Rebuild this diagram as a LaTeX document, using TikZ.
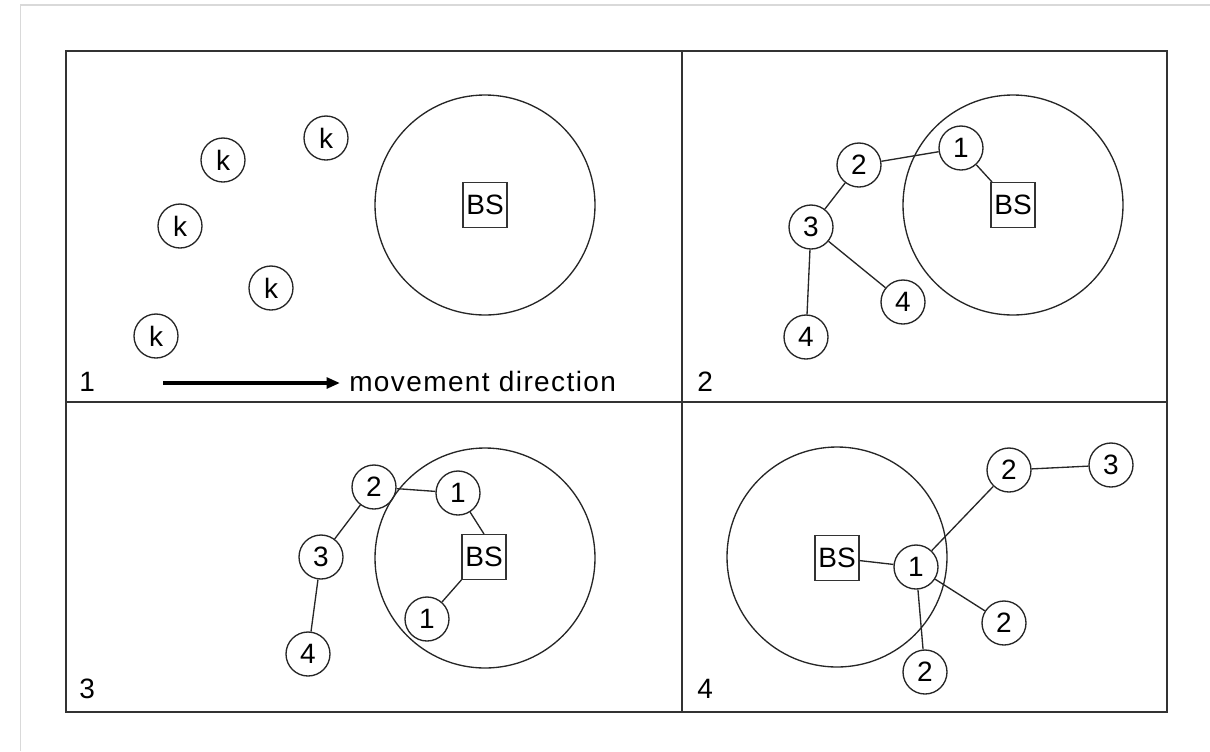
\documentclass[tikz,border=0pt]{standalone}
\usepackage{fontspec}
\setmainfont{Liberation Sans}
\usetikzlibrary{arrows.meta}
\tikzset{
  px/.style={x=0.75pt,y=-0.75pt},
  station/.style={circle,draw=black!85,line width=1pt,minimum size=33pt,inner sep=0pt,
    font=\fontsize{21}{25}\selectfont},
  basebox/.style={rectangle,draw=black!80,line width=1pt,minimum width=33pt,minimum height=33.5pt,
    inner sep=0pt,font=\fontsize{21}{25}\selectfont},
  coverage/.style={draw=black!85,line width=1pt},
  link/.style={draw=black!85,line width=1pt},
  frame/.style={draw=black!80,line width=1.6pt},
  panelno/.style={anchor=base west,inner sep=0pt,font=\fontsize{21}{25}\selectfont},
  pageedge/.style={draw=black!15,line width=1pt}
}
\begin{document}
\begin{tikzpicture}[px]
\useasboundingbox (0,0) rectangle (1210,751);
% page edge
\draw[pageedge] (20.5,751) -- (20.5,5) -- (1210,5);

% outer frame and quadrant dividers
\draw[frame] (66,51) rectangle (1167,712);
\draw[frame] (682,51) -- (682,712);
\draw[frame] (66,402) -- (1167,402);

% ---------- panel 1 ----------
\draw[coverage] (485,205) circle[radius=110];
\node[basebox] (bsA) at (485,205) {BS};
\node[station] (kA) at (223,160) {k};
\node[station] (kB) at (326,138) {k};
\node[station] (kC) at (180,226) {k};
\node[station] (kD) at (271,288) {k};
\node[station] (kE) at (156,336) {k};
\node[panelno] (pA) at (79,391) {1};
\coordinate (arrS) at (163,383);
\coordinate (arrE) at (340,383);
\draw[line width=3pt,-{Triangle[length=10pt,width=8pt]}] (arrS) -- (arrE);
\node[panelno] (mv) at (349,391) {\addfontfeature{LetterSpace=5}movement direction};

% ---------- panel 2 ----------
\draw[coverage] (1013,205) circle[radius=110];
\node[basebox] (bsB) at (1013,205) {BS};
\node[station] (bA) at (961,148) {1};
\node[station] (bB) at (859,165) {2};
\node[station] (bC) at (811,227) {3};
\node[station] (bD) at (903,302) {4};
\node[station] (bE) at (806,337) {4};
\draw[link] (bB) -- (bA);
\draw[link] (bA) -- (bsB);
\draw[link] (bB) -- (bC);
\draw[link] (bC) -- (bD);
\draw[link] (bC) -- (bE);
\node[panelno] (pB) at (697,391) {2};

% ---------- panel 3 ----------
\draw[coverage] (485,558) circle[radius=110];
\node[basebox] (bsC) at (484,557) {BS};
\node[station] (cA) at (374,487) {2};
\node[station] (cB) at (458,493) {1};
\node[station] (cC) at (321,557) {3};
\node[station] (cD) at (308,654) {4};
\node[station] (cE) at (427,619) {1};
\draw[link] (cA) -- (cB);
\draw[link] (cB) -- (bsC.north);
\draw[link] (cA) -- (cC);
\draw[link] (cC) -- (cD);
\draw[link] (bsC.south west) -- (cE);
\node[panelno] (pC) at (79,698) {3};

% ---------- panel 4 ----------
\draw[coverage] (837,557) circle[radius=110];
\node[basebox] (bsD) at (837,558) {BS};
\node[station] (dA) at (916,567) {1};
\node[station] (dB) at (1009,470) {2};
\node[station] (dC) at (1111,465) {3};
\node[station] (dD) at (1004,623) {2};
\node[station] (dE) at (925,672) {2};
\draw[link] (bsD) -- (dA);
\draw[link] (dA) -- (dB);
\draw[link] (dB) -- (dC);
\draw[link] (dA) -- (dD);
\draw[link] (dA) -- (dE);
\node[panelno] (pD) at (697,698) {4};
\end{tikzpicture}
\end{document}
